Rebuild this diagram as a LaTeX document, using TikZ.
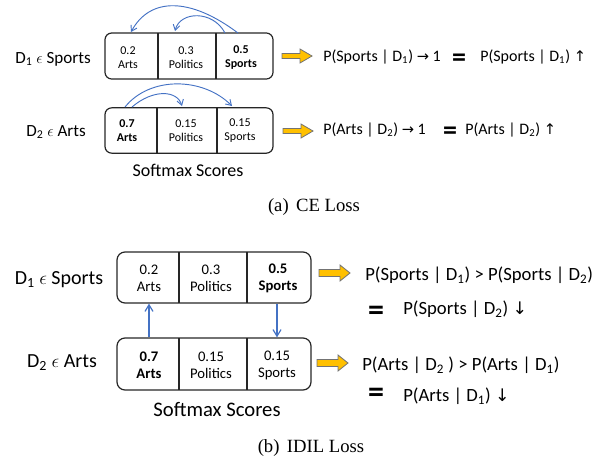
\documentclass[tikz,border=0pt]{standalone}
\usepackage{fontspec}
\setmainfont{Carlito}
\newfontfamily\capfont{Liberation Serif}
\newfontfamily\symfont{DejaVu Sans}
\usetikzlibrary{arrows.meta}
\definecolor{arcblue}{HTML}{4472C4}
\definecolor{gold}{HTML}{FFC000}
\tikzset{
  boxline/.style={draw=black!85, line width=0.9pt},
  tcell/.style={align=center, inner sep=0pt, font=\fontsize{9}{10.5}\selectfont},
  bcell/.style={align=center, inner sep=0pt, font=\fontsize{11}{12.8}\selectfont},
  tlab/.style={inner sep=0pt, font=\fontsize{12.8}{14}\selectfont},
  blab/.style={inner sep=0pt, font=\fontsize{15}{16}\selectfont},
  rtext/.style={inner sep=0pt, anchor=west, font=\fontsize{12}{14}\selectfont},
  brtext/.style={inner sep=0pt, anchor=west, font=\fontsize{14}{16}\selectfont},
  eqsign/.style={inner sep=0pt, anchor=base, font=\fontsize{21}{21}\bfseries\selectfont},
  beqsign/.style={inner sep=0pt, anchor=base, font=\fontsize{24}{24}\bfseries\selectfont},
  capt/.style={inner sep=0pt, font=\capfont\fontsize{14}{15}\selectfont},
  arc/.style={draw=arcblue, line width=0.7pt, -{Straight Barb[length=4pt,width=5pt]}},
  varr/.style={draw=arcblue, line width=0.9pt, -{Straight Barb[length=5pt,width=6pt]}},
  yarrow/.style={fill=gold, draw=black!55, line width=0.6pt, line join=miter},
  ysmall/.pic={\path[yarrow] (0,-2.5) -- (18,-2.5) -- (18,-7) -- (30,0) -- (18,7) -- (18,2.5) -- (0,2.5) -- cycle;},
  ybig/.pic={\path[yarrow] (0,-3.5) -- (21,-3.5) -- (21,-8) -- (31,0) -- (21,8) -- (21,3.5) -- (0,3.5) -- cycle;}
}
\newcommand{\arw}[1]{{\symfont\fontsize{11}{12}\selectfont #1}}
\newcommand{\barw}[1]{{\symfont\fontsize{13}{14}\selectfont #1}}
\begin{document}
\begin{tikzpicture}[x=0.75pt, y=-0.75pt]
\useasboundingbox (0,0) rectangle (599,461);

%% ---------- (a) CE Loss ----------
\node[boxline, rounded corners=5pt, minimum width=126pt, minimum height=34.5pt, inner sep=0pt] (a1box) at (189,56) {};
\draw[boxline] (158,33) -- (158,79);
\draw[boxline] (216,33) -- (216,79);
\node[tcell] (a1arts) at (128,58) {0.2\\Arts};
\node[tcell] (a1pol) at (186,58) {0.3\\Politics};
\node[tcell] (a1spo) at (241,58) {\textbf{0.5}\\\textbf{Sports}};

\node[boxline, rounded corners=5pt, minimum width=126pt, minimum height=34pt, inner sep=0pt] (a2box) at (189,130.5) {};
\draw[boxline] (157,108) -- (157,153);
\draw[boxline] (217,108) -- (217,153);
\node[tcell] (a2arts) at (127,131) {\textbf{0.7}\\\textbf{Arts}};
\node[tcell] (a2pol) at (186,131) {0.15\\Politics};
\node[tcell] (a2spo) at (240,131) {0.15\\Sports};

\node[tlab] (a1lab) at (53,59) {D\textsubscript{1} $\epsilon$ Sports};
\node[tlab] (a2lab) at (56,132) {D\textsubscript{2} $\epsilon$ Arts};
\node[inner sep=0pt, font=\fontsize{13.5}{15}\selectfont] (asoft) at (188,170) {Softmax Scores};

\coordinate (a1s1) at (238,33); \coordinate (a1e1) at (131,32);
\coordinate (a1s2) at (225,33); \coordinate (a1e2) at (175,31);
\draw[arc] (a1s1) .. controls (190,-3) and (150,-3) .. (a1e1);
\draw[arc] (a1s2) .. controls (213,10) and (180,11) .. (a1e2);
\coordinate (a2s1) at (125,107); \coordinate (a2e1) at (232,106);
\coordinate (a2s2) at (132,107); \coordinate (a2e2) at (182,106);
\draw[arc] (a2s1) .. controls (150,76) and (203,77) .. (a2e1);
\draw[arc] (a2s2) .. controls (153,89) and (177,90) .. (a2e2);

\pic at (282,56) {ysmall};
\pic at (283,131) {ysmall};

\node[rtext] (a1r1) at (323,57) {P(Sports | D\textsubscript{1}) \arw{→} 1};
\node[eqsign] (a1eq) at (459,66) {=};
\node[rtext] (a1r2) at (480,57) {P(Sports | D\textsubscript{1}) \arw{↑}};
\node[rtext] (a2r1) at (323,130) {P(Arts | D\textsubscript{2}) \arw{→} 1};
\node[eqsign] (a2eq) at (450,139) {=};
\node[rtext] (a2r2) at (465,130) {P(Arts | D\textsubscript{2}) \arw{↑}};

\node[capt] (capa) at (314,207) {(a)\hspace{0.4em}CE Loss};

%% ---------- (b) IDIL Loss ----------
\node[boxline, rounded corners=6pt, minimum width=145.5pt, minimum height=38.25pt, inner sep=0pt] (b1box) at (214,277.5) {};
\draw[boxline] (179,252) -- (179,303);
\draw[boxline] (247,252) -- (247,303);
\node[bcell] (b1arts) at (149,278.5) {0.2\\Arts};
\node[bcell] (b1pol) at (211,278.5) {0.3\\Politics};
\node[bcell] (b1spo) at (278,278.5) {\textbf{0.5}\\\textbf{Sports}};

\node[boxline, rounded corners=6pt, minimum width=145.5pt, minimum height=39pt, inner sep=0pt] (b2box) at (214,364) {};
\draw[boxline] (179,338) -- (179,390);
\draw[boxline] (247,338) -- (247,390);
\node[bcell] (b2arts) at (149,365.5) {\textbf{0.7}\\\textbf{Arts}};
\node[bcell] (b2pol) at (211,365.5) {0.15\\Politics};
\node[bcell] (b2spo) at (277,365.5) {0.15\\Sports};

\draw[varr] (b2arts |- b2box.north) -- (b2arts |- b1box.south);
\draw[varr] (b2spo |- b1box.south) -- (b2spo |- b2box.north);

\node[blab] (b1lab) at (59,280) {D\textsubscript{1} $\epsilon$ Sports};
\node[blab] (b2lab) at (62,363) {D\textsubscript{2} $\epsilon$ Arts};
\node[inner sep=0pt, font=\fontsize{15.5}{17}\selectfont] (bsoft) at (217,409) {Softmax Scores};

\pic at (319,273) {ybig};
\pic at (317,363) {ybig};

\node[brtext] (b1r1) at (365,275) {P(Sports | D\textsubscript{1}) > P(Sports | D\textsubscript{2})};
\node[beqsign] (b1eq) at (376,320) {=};
\node[brtext] (b1r2) at (403,309) {P(Sports | D\textsubscript{2}) \barw{↓}};
\node[brtext] (b2r1) at (362,365) {P(Arts | D\textsubscript{2} ) > P(Arts | D\textsubscript{1})};
\node[beqsign] (b2eq) at (376,402) {=};
\node[brtext] (b2r2) at (403,396) {P(Arts | D\textsubscript{1}) \barw{↓}};

\node[capt] (capb) at (311,448) {(b)\hspace{0.4em}IDIL Loss};
\end{tikzpicture}
\end{document}
